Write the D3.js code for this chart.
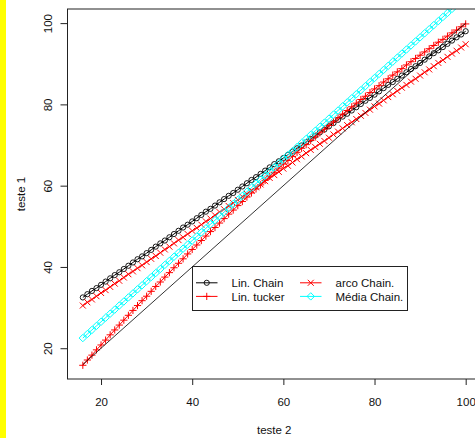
<!DOCTYPE html>
<html>
<head>
<meta charset="utf-8">
<script src="https://cdn.jsdelivr.net/npm/d3@7"></script>
<style>
  html, body { margin: 0; padding: 0; background: #fff; }
  svg { display: block; }
  text { font-family: "Liberation Sans", Arial, sans-serif; fill: #111; }
</style>
</head>
<body>
<script>
// ---------- DATA ----------
const xValues = [16,17,18,19,20,21,22,23,24,25,26,27,28,29,30,31,32,33,34,35,36,37,38,39,40,
  41,42,43,44,45,46,47,48,49,50,51,52,53,54,55,56,57,58,59,60,61,62,63,64,65,66,67,68,69,70,
  71,72,73,74,75,76,77,78,79,80,81,82,83,84,85,86,87,88,89,90,91,92,93,94,95,96,97,98,99,100];

const linChain = [32.5,33.3,34.1,34.8,35.6,36.4,37.2,38.0,38.7,39.5,40.3,41.1,41.9,42.6,43.4,44.2,
  45.0,45.8,46.5,47.3,48.1,48.9,49.7,50.4,51.2,52.0,52.8,53.6,54.3,55.1,55.9,56.7,57.5,58.2,59.0,
  59.8,60.6,61.4,62.1,62.9,63.7,64.5,65.3,66.0,66.8,67.6,68.4,69.2,69.9,70.7,71.5,72.3,73.1,73.8,
  74.6,75.4,76.2,77.0,77.7,78.5,79.3,80.1,80.9,81.6,82.4,83.2,84.0,84.8,85.5,86.3,87.1,87.9,88.7,
  89.4,90.2,91.0,91.8,92.6,93.3,94.1,94.9,95.7,96.5,97.2,98.0];

const linTucker = [15.8,17.1,18.3,19.6,20.8,22.0,23.3,24.5,25.7,26.9,28.1,29.3,30.5,31.7,32.8,34.0,
  35.2,36.3,37.5,38.6,39.8,40.9,42.0,43.2,44.3,45.4,46.5,47.6,48.7,49.7,50.8,51.9,53.0,54.0,55.1,
  56.1,57.2,58.2,59.2,60.2,61.3,62.3,63.3,64.3,65.3,66.2,67.2,68.2,69.2,70.1,71.1,72.0,73.0,73.9,
  74.8,75.7,76.7,77.6,78.5,79.4,80.3,81.2,82.0,82.9,83.8,84.6,85.5,86.3,87.2,88.0,88.8,89.7,90.5,
  91.3,92.1,92.9,93.7,94.5,95.3,96.0,96.8,97.6,98.3,99.1,99.8];

const arcoChain = [30.5,31.3,32.0,32.8,33.6,34.3,35.1,35.9,36.6,37.4,38.2,38.9,39.7,40.4,41.2,42.0,
  42.7,43.5,44.3,45.0,45.8,46.6,47.3,48.1,48.9,49.6,50.4,51.2,51.9,52.7,53.5,54.2,55.0,55.7,56.5,
  57.3,58.0,58.8,59.6,60.3,61.1,61.9,62.6,63.4,64.2,64.9,65.7,66.5,67.2,68.0,68.8,69.5,70.3,71.0,
  71.8,72.6,73.3,74.1,74.9,75.6,76.4,77.2,77.9,78.7,79.5,80.2,81.0,81.8,82.5,83.3,84.1,84.8,85.6,
  86.3,87.1,87.9,88.6,89.4,90.2,90.9,91.7,92.5,93.2,94.0,94.8];

const mediaChain = [22.5,23.5,24.5,25.5,26.5,27.5,28.5,29.5,30.5,31.5,32.5,33.5,34.5,35.5,36.5,37.5,
  38.5,39.5,40.5,41.5,42.5,43.5,44.5,45.5,46.5,47.5,48.5,49.5,50.5,51.5,52.5,53.5,54.5,55.5,56.5,
  57.5,58.5,59.5,60.5,61.5,62.5,63.5,64.5,65.5,66.5,67.5,68.5,69.5,70.5,71.5,72.5,73.5,74.5,75.5,
  76.5,77.5,78.5,79.5,80.5,81.5,82.5,83.5,84.5,85.5,86.5,87.5,88.5,89.5,90.5,91.5,92.5,93.5,94.5,
  95.5,96.5,97.5,98.5,99.5,100.5,101.5,102.5,103.5,104.5,105.5,106.5];

const refX = [16, 100];
const refY = [16, 100];

const xTicks = [20, 40, 60, 80, 100];
const yTicks = [20, 40, 60, 80, 100];
const xLim = [16, 100];
const yLim = [15.8, 100.1];

const seriesNames = ["Lin. Chain", "Lin. tucker", "arco Chain.", "Média Chain."];
const seriesColors = ["#000000", "#FF0000", "#FF0000", "#00FFFF"];
const seriesShapes = ["circle", "plus", "cross", "diamond"];
const seriesValues = [linChain, linTucker, arcoChain, mediaChain];

const xTitle = "teste 2";
const yTitle = "teste 1";

// ---------- LAYOUT ----------
const W = 475, H = 438;
const plot = { left: 67.5, top: 9, right: 481, bottom: 379 };

const svg = d3.select("body").append("svg").attr("width", W).attr("height", H);
svg.append("rect").attr("x", 0).attr("y", 0).attr("width", W).attr("height", H).attr("fill", "#fff");
svg.append("rect").attr("x", 0).attr("y", 0).attr("width", 6).attr("height", H).attr("fill", "#FFFF00");

function ext(l) { const d = l[1] - l[0]; return [l[0] - 0.04 * d, l[1] + 0.04 * d]; }
const x = d3.scaleLinear().domain(ext(xLim)).range([plot.left, plot.right]);
const y = d3.scaleLinear().domain(ext(yLim)).range([plot.bottom, plot.top]);

svg.append("clipPath").attr("id", "clip").append("rect")
  .attr("x", plot.left).attr("y", plot.top)
  .attr("width", plot.right - plot.left).attr("height", plot.bottom - plot.top);

const shapePath = {
  circle: null,
  plus: "M-3.6,0H3.6M0,-3.6V3.6",
  cross: "M-3,-3L3,3M-3,3L3,-3",
  diamond: "M0,-3.7L3.7,0L0,3.7L-3.7,0Z"
};

function drawMarker(g, shape, color) {
  if (shape === "circle") {
    g.append("circle").attr("r", 2.6).attr("fill", "none").attr("stroke", color).attr("stroke-width", 0.9);
  } else {
    g.append("path").attr("d", shapePath[shape]).attr("fill", "none").attr("stroke", color).attr("stroke-width", 1);
  }
}

const plotG = svg.append("g").attr("clip-path", "url(#clip)");
const line = d3.line().x(d => x(d[0])).y(d => y(d[1]));

const drawOrder = [0, 2, 1, 3];
drawOrder.forEach(si => {
  const pts = xValues.map((xv, i) => [xv, seriesValues[si][i]]);
  plotG.append("path").datum(pts).attr("d", line)
    .attr("fill", "none").attr("stroke", seriesColors[si]).attr("stroke-width", 1);
  plotG.selectAll(null).data(pts).enter().append("g")
    .attr("transform", d => `translate(${x(d[0])},${y(d[1])})`)
    .each(function () { drawMarker(d3.select(this), seriesShapes[si], seriesColors[si]); });
});

// reference line
plotG.append("path").datum(refX.map((v, i) => [v, refY[i]])).attr("d", line)
  .attr("fill", "none").attr("stroke", "#000").attr("stroke-width", 0.8);

// box
svg.append("rect").attr("x", plot.left).attr("y", plot.top)
  .attr("width", plot.right - plot.left).attr("height", plot.bottom - plot.top)
  .attr("fill", "none").attr("stroke", "#222").attr("stroke-width", 1);

// axes
const xAxis = svg.append("g").attr("transform", `translate(0,${plot.bottom})`)
  .call(d3.axisBottom(x).tickValues(xTicks).tickSizeInner(6).tickSizeOuter(0).tickFormat(d3.format("d")));
xAxis.select(".domain").remove();
xAxis.selectAll(".tick line").attr("stroke", "#222");
xAxis.selectAll(".tick text").attr("y", 27).attr("dy", 0)
  .style("font-family", "'Liberation Sans', Arial, sans-serif").style("font-size", "11.5px").attr("fill", "#111");

const yAxis = svg.append("g").attr("transform", `translate(${plot.left},0)`)
  .call(d3.axisLeft(y).tickValues(yTicks).tickSizeInner(7).tickSizeOuter(0).tickFormat(d3.format("d")));
yAxis.select(".domain").remove();
yAxis.selectAll(".tick line").attr("stroke", "#222");
yAxis.selectAll(".tick text")
  .attr("transform", "rotate(-90)").attr("x", 0).attr("y", -15.5).attr("dy", 0)
  .attr("text-anchor", "middle")
  .style("font-family", "'Liberation Sans', Arial, sans-serif").style("font-size", "11.5px").attr("fill", "#111");

// titles
svg.append("text").attr("x", (plot.left + plot.right) / 2).attr("y", 434)
  .attr("text-anchor", "middle").style("font-size", "11.5px").text(xTitle);
svg.append("text")
  .attr("transform", `translate(24.5,${(plot.top + plot.bottom) / 2}) rotate(-90)`)
  .attr("text-anchor", "middle").style("font-size", "11.5px").text(yTitle);

// legend
const leg = { x: 192.5, y: 266.5, w: 215, h: 44, row0: 16.3, rowH: 13.6,
  colX: [3.5, 107.5], lineLen: 21.5, textOff: 35.5 };
const legG = svg.append("g").attr("transform", `translate(${leg.x},${leg.y})`);
legG.append("rect").attr("width", leg.w).attr("height", leg.h)
  .attr("fill", "#fff").attr("stroke", "#222").attr("stroke-width", 1);
const legendLayout = [[0, 0], [0, 1], [1, 0], [1, 1]]; // [col,row] per series
seriesNames.forEach((name, si) => {
  const [c, r] = legendLayout[si];
  const lx = leg.colX[c], ly = leg.row0 + r * leg.rowH;
  const g = legG.append("g").attr("transform", `translate(${lx},${ly})`);
  g.append("line").attr("x1", 0).attr("x2", leg.lineLen).attr("y1", 0).attr("y2", 0)
    .attr("stroke", seriesColors[si]).attr("stroke-width", 1);
  const mg = g.append("g").attr("transform", `translate(${leg.lineLen / 2},0)`);
  drawMarker(mg, seriesShapes[si], seriesColors[si]);
  g.append("text").attr("x", leg.textOff).attr("y", 4.1)
    .style("font-size", "11.5px").text(name);
});
</script>
</body>
</html>
